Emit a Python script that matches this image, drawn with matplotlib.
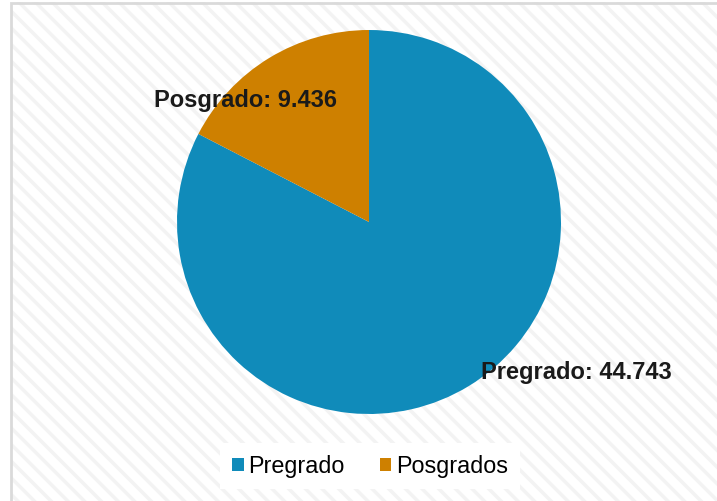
import matplotlib
matplotlib.use('Agg')
import matplotlib.pyplot as plt
from matplotlib.patches import Rectangle

plt.rcParams['font.family'] = ['Liberation Sans', 'DejaVu Sans']
plt.rcParams['hatch.linewidth'] = 2.5

categories = ['Pregrado', 'Posgrado']
values = [44743, 9436]
legend_labels = ['Pregrado', 'Posgrados']
colors = ['#108BBA', '#CE8000']

W, H = 717, 501
fig = plt.figure(figsize=(W / 100, H / 100), dpi=100)
ax = fig.add_axes([0, 0, 1, 1])

wedges, _ = ax.pie(values, colors=colors, startangle=90, counterclock=False,
                   center=(369, 279), radius=192,
                   wedgeprops={'linewidth': 0})
for w in wedges:
    w.set_zorder(2)

ax.set_xlim(0, W)
ax.set_ylim(0, H)
ax.set_aspect('equal')
ax.axis('off')

# striped chart-area background and its light border (runs off right/bottom)
ax.add_patch(Rectangle((11, -20), W + 20, H - 2 + 20, facecolor='white',
                       edgecolor='#f3f3f3', hatch='\\\\', linewidth=0, zorder=0))
ax.add_patch(Rectangle((11, -20), W + 20, H - 2.5 + 20, facecolor='none',
                       edgecolor='#dadada', linewidth=2, zorder=1))


def fmt(v):
    return f'{v:,}'.replace(',', '.')


label_pos = {'Pregrado': (576, 128), 'Posgrado': (245, 401)}
for cat, v in zip(categories, values):
    x, y = label_pos[cat]
    ax.text(x, y, f'{cat}: {fmt(v)}', ha='center', va='center',
            fontsize=17, fontweight='bold', color='#1a1a1a', zorder=5)

leg = ax.legend(wedges, legend_labels, loc='center', bbox_to_anchor=(370, 35),
                bbox_transform=ax.transData, ncol=2, fontsize=16.8,
                frameon=True, fancybox=False, facecolor='white', edgecolor='none',
                framealpha=1, handlelength=0.5, handleheight=0.5,
                handletextpad=0.2, columnspacing=1.5, borderpad=0.5)
leg.set_zorder(6)

fig.savefig('out.png', dpi=100)
